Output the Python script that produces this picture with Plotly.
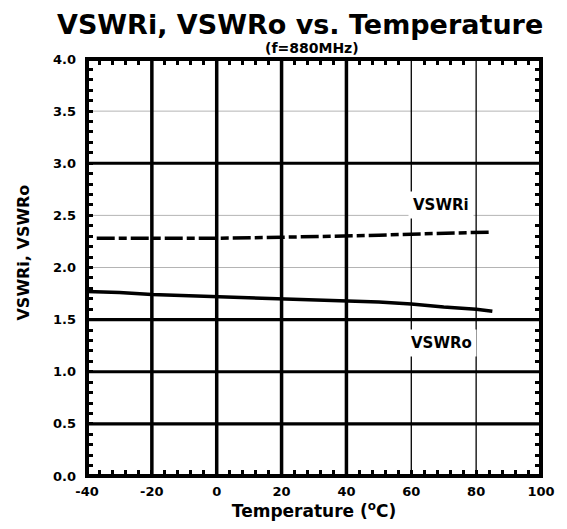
import plotly.graph_objects as go

# Measured data (f = 880 MHz)
temp_in = [-37, -20, 0, 20, 40, 50, 60, 70, 85]
vswr_in = [2.28, 2.28, 2.28, 2.29, 2.30, 2.31, 2.32, 2.33, 2.34]

temp_out = [-40, -30, -20, -10, 0, 10, 20, 30, 40, 50, 60, 70, 80, 85]
vswr_out = [1.77, 1.76, 1.74, 1.73, 1.72, 1.71, 1.70, 1.69, 1.68, 1.67, 1.65, 1.62, 1.60, 1.58]

# Axis ticks
x_ticks = [-40, -20, 0, 20, 40, 60, 80, 100]
x_tick_labels = ["-40", "-20", "0", "20", "40", "60", "80", "100"]
y_ticks = [0.0, 0.5, 1.0, 1.5, 2.0, 2.5, 3.0, 3.5, 4.0]
y_tick_labels = ["0.0", "0.5", "1.0", "1.5", "2.0", "2.5", "3.0", "3.5", "4.0"]

# Grid lines: heavy black, thin black, thin grey
heavy_x = [-20, 0, 20, 40]
thin_x = [60, 80]
heavy_y = [0.5, 1.0, 1.5, 3.0]
light_y = [2.0, 2.5, 3.5]

# Curve labels
label_text = ["VSWRi", "VSWRo"]
label_x = [69.2, 69.2]
label_y = [2.60, 1.28]

FONT = "DejaVu Sans"

fig = go.Figure()
fig.add_trace(go.Scatter(
    x=temp_in, y=vswr_in, mode="lines",
    line=dict(color="black", width=3.5, dash="18px,4px,8px,4px"),
    showlegend=False, hoverinfo="skip"))
fig.add_trace(go.Scatter(
    x=temp_out, y=vswr_out, mode="lines",
    line=dict(color="black", width=3.5),
    showlegend=False, hoverinfo="skip"))
# transparent copy that carries the mirrored top/right tick axes
fig.add_trace(go.Scatter(
    x=temp_out, y=vswr_out, mode="lines", xaxis="x2", yaxis="y2",
    line=dict(color="rgba(0,0,0,0)", width=1),
    showlegend=False, hoverinfo="skip"))


def vline(xv, color, width):
    return dict(type="line", xref="x", yref="paper", x0=xv, x1=xv, y0=0, y1=1,
                line=dict(color=color, width=width), layer="below")


def hline(yv, color, width):
    return dict(type="line", xref="paper", yref="y", x0=0, x1=1, y0=yv, y1=yv,
                line=dict(color=color, width=width), layer="below")


shapes = []
shapes += [hline(v, "#b4b4b4", 1) for v in light_y]
shapes += [vline(v, "black", 1.3) for v in thin_x]
shapes += [vline(v, "black", 3.5) for v in heavy_x]
shapes += [hline(v, "black", 3.2) for v in heavy_y]
# plot frame
shapes.append(dict(type="rect", xref="paper", yref="paper", x0=0, x1=1, y0=0, y1=1,
                   line=dict(color="black", width=4), layer="above"))

annotations = []
for t, xv, yv in zip(label_text, label_x, label_y):
    annotations.append(dict(x=xv, y=yv, xref="x", yref="y", text=t, showarrow=False,
                            font=dict(family=FONT, size=15, color="black", weight="bold"),
                            bgcolor="white", borderpad=4))
annotations.append(dict(x=0.469, y=1.083, xref="paper", yref="paper",
                        text="VSWRi, VSWRo vs. Temperature", showarrow=False,
                        xanchor="center", yanchor="middle",
                        font=dict(family=FONT, size=27, color="black", weight="bold")))
annotations.append(dict(x=0.496, y=1.027, xref="paper", yref="paper",
                        text="(f=880MHz)", showarrow=False,
                        xanchor="center", yanchor="middle",
                        font=dict(family=FONT, size=14, color="black", weight="bold")))
annotations.append(dict(x=-0.14, y=0.537, xref="paper", yref="paper",
                        text="VSWRi, VSWRo", showarrow=False, textangle=-90,
                        xanchor="center", yanchor="middle",
                        font=dict(family=FONT, size=16, color="black", weight="bold")))

tick_font = dict(family=FONT, size=13, color="black", weight="bold")
x_minor = dict(dtick=4, tick0=0, ticks="inside", ticklen=6, tickwidth=2.5,
               tickcolor="black", showgrid=False)
y_minor = dict(dtick=0.1, tick0=0, ticks="inside", ticklen=6, tickwidth=3,
               tickcolor="black", showgrid=False)

fig.update_layout(
    width=567, height=529,
    margin=dict(l=87, r=22, t=59, b=53),
    paper_bgcolor="white", plot_bgcolor="white",
    shapes=shapes, annotations=annotations,
    xaxis=dict(
        range=[-40, 100], tickmode="array", tickvals=x_ticks, ticktext=x_tick_labels,
        showgrid=False, zeroline=False, showline=False, ticks="",
        minor=x_minor, tickfont=tick_font, ticklabelstandoff=6,
        title=dict(text="Temperature (<sup>o</sup>C)", standoff=2,
                   font=dict(family=FONT, size=17, color="black", weight="bold")),
    ),
    yaxis=dict(
        range=[0, 4], tickmode="array", tickvals=y_ticks, ticktext=y_tick_labels,
        showgrid=False, zeroline=False, showline=False, ticks="",
        minor=y_minor, tickfont=tick_font, ticklabelstandoff=10,
    ),
    xaxis2=dict(
        range=[-40, 100], overlaying="x", side="top", anchor="y2",
        tickmode="linear", tick0=0, dtick=20, showticklabels=False,
        showgrid=False, zeroline=False, showline=False, ticks="",
        minor=x_minor,
    ),
    yaxis2=dict(
        range=[0, 4], overlaying="y", side="right", anchor="x2",
        tickmode="linear", tick0=0, dtick=0.5, showticklabels=False,
        showgrid=False, zeroline=False, showline=False, ticks="",
        minor=y_minor,
    ),
)

fig.write_html("out.html")
